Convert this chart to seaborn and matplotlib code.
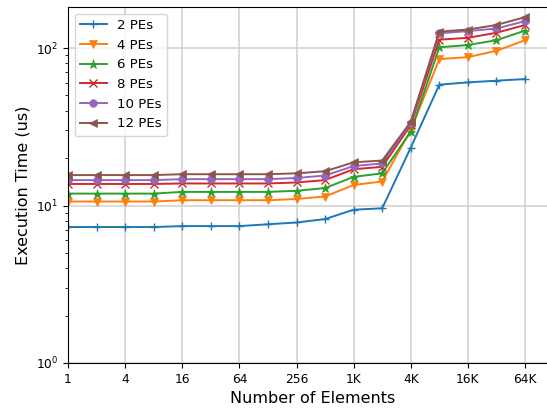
import numpy as np
import pandas as pd
import matplotlib
matplotlib.use("Agg")
import matplotlib.pyplot as plt
import seaborn as sns

# Data
num_elements = [1, 2, 4, 8, 16, 32, 64, 128, 256, 512, 1024, 2048, 4096, 8192, 16384, 32768, 65536]
series_labels = ["2 PEs", "4 PEs", "6 PEs", "8 PEs", "10 PEs", "12 PEs"]
pe2 = [7.3, 7.3, 7.3, 7.3, 7.4, 7.4, 7.4, 7.6, 7.8, 8.2, 9.4, 9.6, 23.3, 58.5, 60.5, 62.0, 63.5]
pe4 = [10.6, 10.6, 10.6, 10.6, 10.8, 10.8, 10.8, 10.8, 11.0, 11.4, 13.5, 14.2, 30.1, 85.0, 87.5, 96.0, 112.0]
pe6 = [11.9, 11.9, 11.9, 11.9, 12.2, 12.2, 12.2, 12.2, 12.4, 12.9, 15.2, 16.0, 29.5, 101.0, 104.5, 112.0, 129.0]
pe8 = [13.7, 13.7, 13.7, 13.7, 13.8, 13.8, 13.8, 13.8, 14.0, 14.5, 17.0, 17.6, 32.4, 113.0, 116.0, 125.0, 140.0]
pe10 = [14.5, 14.5, 14.5, 14.5, 14.7, 14.7, 14.7, 14.7, 14.95, 15.5, 17.8, 18.5, 33.3, 124.0, 128.0, 133.0, 148.0]
pe12 = [15.6, 15.6, 15.6, 15.6, 15.8, 15.8, 15.8, 15.8, 16.0, 16.5, 18.8, 19.3, 34.0, 127.0, 131.0, 140.0, 157.0]
series_values = [pe2, pe4, pe6, pe8, pe10, pe12]
x_tick_values = [1, 4, 16, 64, 256, 1024, 4096, 16384, 65536]
x_tick_labels = ["1", "4", "16", "64", "256", "1K", "4K", "16K", "64K"]

markers = ["+", "v", "*", "x", "o", "<"]
colors = sns.color_palette("tab10", 6)

plt.rcParams['font.family'] = ['DejaVu Sans']
fig = plt.figure(figsize=(5.47, 4.08), dpi=100)
W, H = 547.0, 408.0
ax = fig.add_axes([68 / W, 45 / H, 490 / W, (363 - 7) / H])

for lab, vals, mk, c in zip(series_labels, series_values, markers, colors):
    df = pd.DataFrame({"n": num_elements, "t": vals})
    sns.lineplot(data=df, x="n", y="t", ax=ax, label=lab, marker=mk, color=c,
                 linewidth=1.4, markersize=5.5 if mk != "*" else 6.5,
                 markeredgecolor=c, markeredgewidth=1.0 if mk in "+x" else 0.5)

ax.set_xscale("log", base=2)
ax.set_yscale("log")
px_per_doubling = (525 - 68) / 16.0
ax.set_xlim(1, 2 ** (490 / px_per_doubling))
ax.set_ylim(1, 10 ** ((363 - 7) / 157.5))
ax.set_xticks(x_tick_values)
ax.set_xticklabels(x_tick_labels)
ax.xaxis.set_minor_locator(matplotlib.ticker.NullLocator())
ax.tick_params(axis="both", which="major", labelsize=8.8)
ax.grid(True, which="major", color="#cfcfcf", linewidth=1.1)
ax.set_axisbelow(True)
ax.set_xlabel("Number of Elements", fontsize=11.5)
ax.set_ylabel("Execution Time (us)", fontsize=11.5)
ax.legend(loc="upper left", fontsize=9.6, framealpha=0.8, borderaxespad=0.5)

fig.savefig("out.png", dpi=100)
